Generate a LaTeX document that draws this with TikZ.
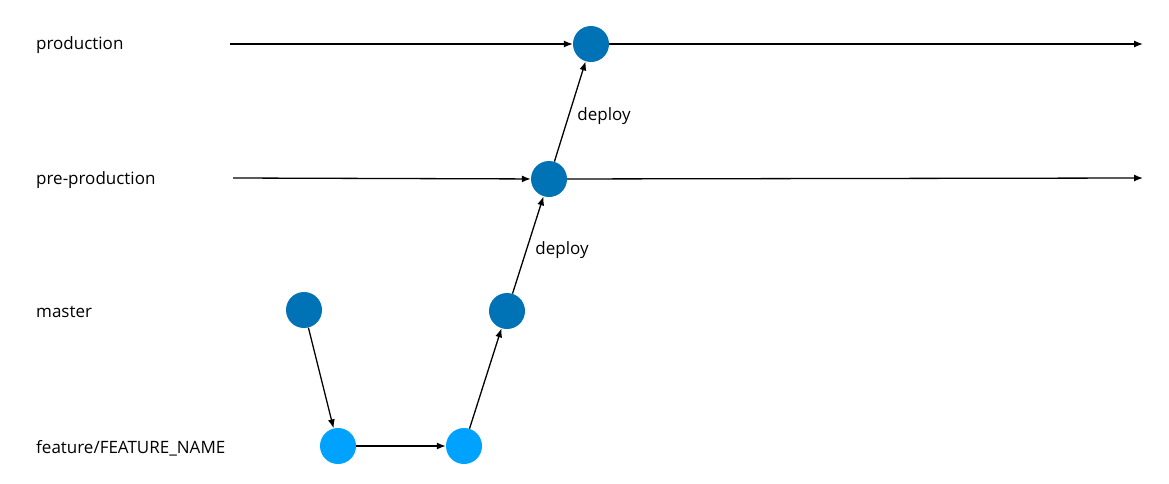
\documentclass[tikz,border=0pt]{standalone}
\usepackage{fontspec}
\setmainfont{Open Sans}
\usetikzlibrary{arrows.meta}
\definecolor{darkblue}{HTML}{0073B7}
\definecolor{lightblue}{HTML}{00A2FF}
\begin{document}
\begin{tikzpicture}[x=1pt,y=-1pt,
  commit/.style={circle,minimum size=36pt,inner sep=0pt,draw=none},
  dcommit/.style={commit,fill=darkblue},
  lcommit/.style={commit,fill=lightblue},
  lbl/.style={anchor=west,inner sep=0pt,font=\fontsize{17}{19}\selectfont},
  conn/.style={line width=1.3pt,-{Latex[length=9pt,width=7pt]}}]
\useasboundingbox (0,0) rectangle (1169,483);
\node[lbl] (lprod) at (36,45) {production};
\node[lbl] (lpre) at (36,180) {pre-production};
\node[lbl] (lmaster) at (36,312) {master};
\node[lbl] (lfeat) at (36,448) {feature/FEATURE\_NAME};

\node[dcommit] (prod) at (591,44) {};
\node[dcommit] (pre) at (549,179) {};
\node[dcommit] (m1) at (304,310) {};
\node[dcommit] (m2) at (507,311) {};
\node[lcommit] (f1) at (338,446) {};
\node[lcommit] (f2) at (464,446) {};

\coordinate (ps) at (230,44);
\coordinate (pe) at (1143,44);
\coordinate (qs) at (233,178);
\coordinate (qe) at (1143,178);

\draw[conn] (ps) -- (prod);
\draw[conn] (prod) -- (pe);
\draw[conn] (qs) -- (pre);
\draw[conn] (pre) -- (qe);
\draw[conn] (m1) -- (f1);
\draw[conn] (f1) -- (f2);
\draw[conn] (f2) -- (m2);
\draw[conn] (m2) -- (pre) node[pos=0.45,right=5pt,font=\fontsize{17}{19}\selectfont] (d2) {deploy};
\draw[conn] (pre) -- (prod) node[pos=0.45,right=5pt,font=\fontsize{17}{19}\selectfont] (d1) {deploy};
\end{tikzpicture}
\end{document}
